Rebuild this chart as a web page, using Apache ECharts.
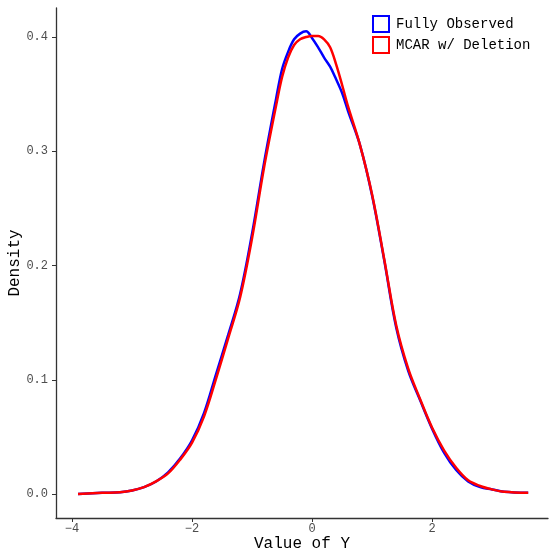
<!DOCTYPE html>
<html>
<head>
<meta charset="utf-8">
<script src="https://cdn.jsdelivr.net/npm/echarts@6/dist/echarts.min.js"></script>
<style>html,body{margin:0;padding:0;background:#fff}#c{width:549px;height:549px}</style>
</head>
<body>
<div id="c"></div>
<script>
var xVals = [-3.9,-3.5,-3.2,-3.0,-2.8,-2.6,-2.4,-2.2,-2.0,-1.8,-1.6,-1.4,-1.2,-1.0,-0.8,-0.6,-0.5,-0.4,-0.3,-0.2,-0.1,0.0,0.1,0.2,0.3,0.4,0.5,0.6,0.8,1.0,1.2,1.4,1.6,1.8,2.0,2.2,2.4,2.6,2.8,3.0,3.2,3.6];
var fullyObserved = [0.000,0.001,0.0015,0.003,0.006,0.011,0.019,0.031,0.047,0.071,0.105,0.139,0.175,0.228,0.290,0.346,0.372,0.387,0.398,0.403,0.405,0.399,0.391,0.382,0.374,0.363,0.351,0.335,0.305,0.261,0.205,0.146,0.108,0.082,0.057,0.036,0.021,0.011,0.006,0.004,0.002,0.001];
var mcarDeletion = [0.000,0.001,0.0015,0.003,0.006,0.011,0.018,0.030,0.045,0.068,0.101,0.136,0.172,0.224,0.286,0.340,0.365,0.382,0.393,0.398,0.400,0.401,0.401,0.398,0.391,0.376,0.358,0.339,0.305,0.262,0.206,0.148,0.110,0.083,0.058,0.038,0.023,0.012,0.007,0.004,0.002,0.001];
var xTicks = [-4,-2,0,2];
var yTicks = [0,0.1,0.2,0.3,0.4];
var seriesNames = ['Fully Observed','MCAR w/ Deletion'];
var seriesColors = ['#0000FF','#FF0000'];

function pairs(ys){ return xVals.map(function(x,i){ return [x, ys[i]]; }); }
var FONT = "'Liberation Mono','Courier New',monospace";
var chart = echarts.init(document.getElementById('c'), null, {renderer:'canvas'});
chart.setOption({
  animation:false,
  backgroundColor:'#fff',
  grid:{left:56, right:1, top:8, bottom:31, containLabel:false, outerBoundsMode:'none'},
  legend:{
    orient:'vertical', left:372, top:15, padding:0, itemWidth:16, itemHeight:16, itemGap:3,
    textStyle:{fontFamily:FONT, fontSize:14, color:'#000', padding:[0,0,0,2]},
    data: seriesNames.map(function(n,i){ return {name:n, icon:'rect', itemStyle:{color:'transparent', borderColor:seriesColors[i], borderWidth:2}}; })
  },
  xAxis:{
    type:'value', min:-4.267, max:3.93,
    name:'Value of Y', nameLocation:'middle', nameGap:18, nameMoveOverlap:false,
    nameTextStyle:{fontFamily:FONT, fontSize:16, color:'#000'},
    axisLine:{onZero:false, lineStyle:{color:'#333', width:1.3}},
    axisTick:{show:true, length:4, customValues:xTicks, lineStyle:{color:'#333'}},
    axisLabel:{customValues:xTicks, fontFamily:FONT, fontSize:12, color:'#4D4D4D', margin:5,
      formatter:function(v){ return v < 0 ? '\u2212' + Math.abs(v) : String(v); }},
    splitLine:{show:false}
  },
  yAxis:{
    type:'value', min:-0.021, max:0.4254,
    name:'Density', nameLocation:'middle', nameGap:33, nameRotate:90, nameMoveOverlap:false,
    nameTextStyle:{fontFamily:FONT, fontSize:16, color:'#000'},
    axisLine:{show:true, onZero:false, lineStyle:{color:'#333', width:1.3}},
    axisTick:{show:true, length:4, customValues:yTicks, lineStyle:{color:'#333'}},
    axisLabel:{customValues:yTicks, fontFamily:FONT, fontSize:12, color:'#4D4D4D', margin:8,
      formatter:function(v){ return v.toFixed(1); }},
    splitLine:{show:false}
  },
  series:[
    {name:seriesNames[0], type:'line', smooth:0.35, showSymbol:false, data:pairs(fullyObserved),
     lineStyle:{color:seriesColors[0], width:2.5}, itemStyle:{color:seriesColors[0]}},
    {name:seriesNames[1], type:'line', smooth:0.35, showSymbol:false, data:pairs(mcarDeletion),
     lineStyle:{color:seriesColors[1], width:2.5}, itemStyle:{color:seriesColors[1]}}
  ]
});
</script>
</body>
</html>
